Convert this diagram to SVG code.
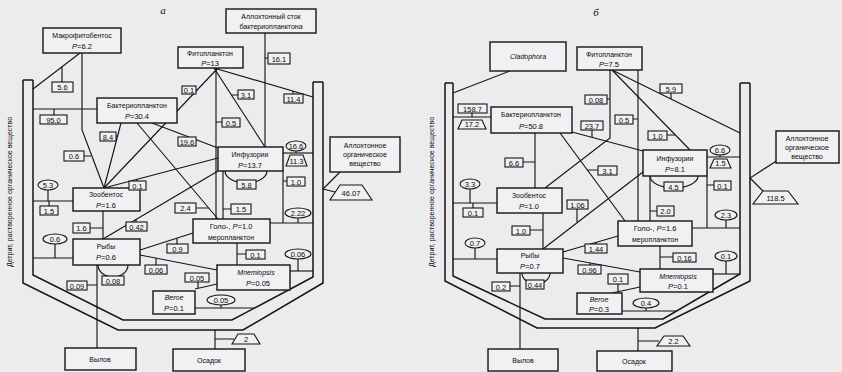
<svg xmlns="http://www.w3.org/2000/svg" width="842" height="372" viewBox="0 0 842 372">
<style>
.bg{fill:#ececef}
.ln{stroke:#151515;stroke-width:1.15;fill:none}
.wl{stroke:#151515;stroke-width:1.5;fill:none}
.bx{fill:#f1f1f3;stroke:#151515;stroke-width:1.4}
.lb{fill:#f1f1f3;stroke:#151515;stroke-width:1.1}
.t{font-family:"Liberation Sans",Arial,sans-serif;font-size:7px;fill:#0a0a0a;text-anchor:middle}
.n{font-family:"Liberation Sans",Arial,sans-serif;font-size:7.5px;fill:#0a0a0a;text-anchor:middle}
.i{font-style:italic}
.h{font-family:"Liberation Serif","Times New Roman",serif;font-size:11px;font-style:italic;fill:#111;text-anchor:middle}
</style>
<rect class="bg" x="0" y="0" width="842" height="372"/>

<!-- ===== LEFT (a) ===== -->
<g id="a-trough">
<path class="wl" d="M23,80 V283 L118,330 H243 L323,283 V82"/>
<path class="wl" d="M33,80 V275 L123,320 H232 L313,277 V82"/>
<path class="wl" d="M23,80 H33 M313,82 H323"/>
<text class="t" transform="translate(12,192) rotate(-90)">Детрит, растворенное органическое вещество</text>
</g>
<text class="h" x="163" y="14">а</text>

<g id="a-connectors">
<path class="ln" d="M80,53 L33,89"/>
<path class="ln" d="M82,53 V130 L104,188"/>
<path class="ln" d="M33,109 H97"/>
<path class="ln" d="M121,123 L104,188"/>
<path class="ln" d="M218,68 L104,188"/>
<path class="ln" d="M216,68 V219"/>
<path class="ln" d="M214,68 L265,147"/>
<path class="ln" d="M214,68 L313,97"/>
<path class="ln" d="M265,33 V147"/>
<path class="ln" d="M152,123 L218,148"/>
<path class="ln" d="M137,123 L218,219"/>
<path class="ln" d="M223,171 V219"/>
<path class="ln" d="M218,158 L104,188"/>
<path class="ln" d="M218,171 L103,239"/>
<path class="ln" d="M103,211 V239"/>
<path class="ln" d="M33,201 H73"/>
<path class="ln" d="M33,258 H73"/>
<path class="ln" d="M97,265 V348"/>
<path class="ln" d="M98,265 A15,12 0 0 0 128,265"/>
<path class="ln" d="M225,171 A21,12 0 0 0 267,171"/>
<path class="ln" d="M193,233 L140,250"/>
<path class="ln" d="M140,255 L217,270"/>
<path class="ln" d="M237,243 V265"/>
<path class="ln" d="M270,223 H313"/>
<path class="ln" d="M283,153 H313"/>
<path class="ln" d="M283,171 V223"/>
<path class="ln" d="M290,271 H313"/>
<path class="ln" d="M195,289 L217,284"/>
<path class="ln" d="M195,308 H255"/>
<path class="ln" d="M215,330 V349 M215,339 H234"/>
<path class="ln" d="M340,172 L323,189 L335,192"/>
<!-- ticks -->
<path class="ln" d="M62,82 V67 M54,109 V115 M116,136 H118 M84,156 H91 M196,90 H197 M238,95 H231 M222,122 H216 M293,94 V91 M265,58 H268 M296,151 V153 M283,181 H287 M48,190 V201 M49,201 V206 M137,181 V179 M196,208 H209 M223,209 H231 M136,222 V219 M90,228 H103 M55,244 V258 M177,244 V238 M298,218 V223 M237,254 H246 M156,265 V258 M298,259 V271 M198,282 V288 M221,305 V308 M87,285 H97"/>
</g>

<g id="a-makrofitobentos"><rect class="bx" x="43" y="28" width="78" height="25"/><text class="t" x="82" y="38">Макрофитобентос</text><text class="n" x="82" y="49"><tspan class="i">P</tspan>=6.2</text></g>
<g id="a-allochthonous-bacterio"><rect class="bx" x="226" y="9" width="90" height="24"/><text class="t" x="271" y="19">Аллохтонный сток</text><text class="t" x="271" y="29">бактериопланктона</text></g>
<g id="a-phytoplankton"><rect class="bx" x="178" y="47" width="65" height="21"/><text class="t" x="210" y="56">Фитопланктон</text><text class="n" x="210" y="66"><tspan class="i">P</tspan>=13</text></g>
<g id="a-bacterioplankton"><rect class="bx" x="97" y="98" width="80" height="25"/><text class="t" x="137" y="108">Бактериопланктон</text><text class="n" x="137" y="119"><tspan class="i">P</tspan>=30.4</text></g>
<g id="a-infusoria"><rect class="bx" x="218" y="147" width="65" height="24"/><text class="t" x="250" y="157">Инфузории</text><text class="n" x="250" y="168"><tspan class="i">P</tspan>=13.7</text></g>
<g id="a-zoobenthos"><rect class="bx" x="73" y="188" width="67" height="23"/><text class="t" x="106" y="197">Зообентос</text><text class="n" x="106" y="208"><tspan class="i">P</tspan>=1.6</text></g>
<g id="a-fish"><rect class="bx" x="73" y="239" width="67" height="26"/><text class="t" x="106" y="249">Рыбы</text><text class="n" x="106" y="260"><tspan class="i">P</tspan>=0.6</text></g>
<g id="a-golo"><rect class="bx" x="193" y="219" width="77" height="24"/><text class="n" x="231" y="229">Голо-, <tspan class="i">P</tspan>=1.0</text><text class="t" x="231" y="240">меропланктон</text></g>
<g id="a-mnemiopsis"><rect class="bx" x="217" y="265" width="73" height="25"/><text class="t i" x="256" y="275">Mnemiopsis</text><text class="n" x="258" y="286"><tspan class="i">P</tspan>=0.05</text></g>
<g id="a-beroe"><rect class="bx" x="153" y="291" width="42" height="23"/><text class="t i" x="174" y="300">Beroe</text><text class="n" x="174" y="311"><tspan class="i">P</tspan>=0.1</text></g>
<g id="a-vylov"><rect class="bx" x="65" y="348" width="71" height="22"/><text class="t" x="100" y="362">Вылов</text></g>
<g id="a-osadok"><rect class="bx" x="173" y="349" width="72" height="22"/><text class="t" x="209" y="363">Осадок</text></g>
<g id="a-allochthonous-om"><rect class="bx" x="330" y="137" width="70" height="35"/><text class="t" x="365" y="148">Аллохтонное</text><text class="t" x="365" y="157">органическое</text><text class="t" x="365" y="166">вещество</text></g>

<g id="a-labels">
<rect class="lb" x="52" y="82" width="21" height="10"/><text class="n" x="62.5" y="90">5.6</text>
<rect class="lb" x="40" y="115" width="27" height="9"/><text class="n" x="53.5" y="122.5">95.0</text>
<rect class="lb" x="100" y="132" width="16" height="9"/><text class="n" x="108" y="139.5">8.4</text>
<rect class="lb" x="64" y="151" width="20" height="10"/><text class="n" x="74" y="159">0.6</text>
<rect class="lb" x="182" y="86" width="14" height="8"/><text class="n" x="189" y="92.5">0.1</text>
<rect class="lb" x="238" y="90" width="16" height="9"/><text class="n" x="246" y="97.5">3.1</text>
<rect class="lb" x="222" y="118" width="18" height="9"/><text class="n" x="231" y="125.5">0.5</text>
<rect class="lb" x="284" y="94" width="19" height="9"/><text class="n" x="293.5" y="101.5">11.4</text>
<rect class="lb" x="268" y="53" width="22" height="11"/><text class="n" x="279" y="61.5">16.1</text>
<rect class="lb" x="178" y="137" width="18" height="9"/><text class="n" x="187" y="144.5">19.6</text>
<rect class="lb" x="237" y="180" width="19" height="9"/><text class="n" x="246.5" y="187.5">5.8</text>
<ellipse class="lb" cx="296" cy="146" rx="10" ry="5"/><text class="n" x="296" y="148.5">16.6</text>
<polygon class="lb" points="286,166 307,166 303,155 290,155"/><text class="n" x="296.5" y="163.5">11.3</text>
<rect class="lb" x="287" y="177" width="18" height="9"/><text class="n" x="296" y="184.5">1.0</text>
<ellipse class="lb" cx="48" cy="185" rx="10" ry="5"/><text class="n" x="48" y="187.5">5.3</text>
<rect class="lb" x="40" y="206" width="18" height="9"/><text class="n" x="49" y="213.5">1.5</text>
<rect class="lb" x="129" y="181" width="17" height="9"/><text class="n" x="137.5" y="188.5">0.1</text>
<rect class="lb" x="175" y="203" width="21" height="10"/><text class="n" x="185.5" y="211">2.4</text>
<rect class="lb" x="231" y="204" width="20" height="10"/><text class="n" x="241" y="212">1.5</text>
<rect class="lb" x="126" y="222" width="21" height="9"/><text class="n" x="136.5" y="229.5">0.42</text>
<rect class="lb" x="73" y="223" width="17" height="10"/><text class="n" x="81.5" y="231">1.6</text>
<ellipse class="lb" cx="55" cy="239" rx="12" ry="5"/><text class="n" x="55" y="241.5">0.6</text>
<rect class="lb" x="167" y="244" width="21" height="9"/><text class="n" x="177.5" y="251.5">0.9</text>
<ellipse class="lb" cx="298" cy="213" rx="13" ry="5"/><text class="n" x="298" y="215.5">2.22</text>
<rect class="lb" x="246" y="250" width="19" height="9"/><text class="n" x="255.5" y="257.5">0.1</text>
<rect class="lb" x="145" y="265" width="22" height="9"/><text class="n" x="156" y="272.5">0.06</text>
<ellipse class="lb" cx="298" cy="254" rx="13" ry="5"/><text class="n" x="298" y="256.5">0.06</text>
<rect class="lb" x="185" y="273" width="24" height="9"/><text class="n" x="197" y="280.5">0.05</text>
<ellipse class="lb" cx="221" cy="300" rx="14" ry="5"/><text class="n" x="221" y="302.5">0.05</text>
<rect class="lb" x="67" y="281" width="20" height="9"/><text class="n" x="77" y="288.5">0.09</text>
<rect class="lb" x="102" y="276" width="22" height="9"/><text class="n" x="113" y="283.5">0.08</text>
<polygon class="lb" points="232,344 260,344 254,334 238,334"/><text class="n" x="246" y="342">2</text>
<polygon class="lb" points="330,200 372,200 362,185 340,185"/><text class="n" x="351" y="196">46.07</text>
</g>

<!-- ===== RIGHT (б) ===== -->
<g id="b-trough">
<path class="wl" d="M445,83 V281 L537,328 H655 L750,281 V83"/>
<path class="wl" d="M453,83 V276 L545,319 H663 L740,274 V83"/>
<path class="wl" d="M445,83 H453 M740,83 H750"/>
<text class="t" transform="translate(434,192) rotate(-90)">Детрит, растворенное органическое вещество</text>
</g>
<text class="h" x="596" y="16">б</text>

<g id="b-connectors">
<path class="ln" d="M510,71 L453,93"/>
<path class="ln" d="M453,117 H491"/>
<path class="ln" d="M535,133 V188"/>
<path class="ln" d="M572,132 L643,151"/>
<path class="ln" d="M610,70 V138 L545,188"/>
<path class="ln" d="M638,70 V221"/>
<path class="ln" d="M612,70 L690,150"/>
<path class="ln" d="M612,70 L740,133"/>
<path class="ln" d="M560,133 L625,221"/>
<path class="ln" d="M650,176 V221"/>
<path class="ln" d="M707,157 H740"/>
<path class="ln" d="M707,176 V228"/>
<path class="ln" d="M692,228 H740"/>
<path class="ln" d="M643,172 L543,249"/>
<path class="ln" d="M543,213 V249"/>
<path class="ln" d="M453,203 H497"/>
<path class="ln" d="M453,259 H497"/>
<path class="ln" d="M520,273 V349"/>
<path class="ln" d="M522,273 A14,11 0 0 0 550,273"/>
<path class="ln" d="M650,176 A24,12 0 0 0 698,176"/>
<path class="ln" d="M618,236 L563,252"/>
<path class="ln" d="M563,258 L640,272"/>
<path class="ln" d="M660,246 V269"/>
<path class="ln" d="M713,274 H740"/>
<path class="ln" d="M612,293 L640,287"/>
<path class="ln" d="M622,311 H677"/>
<path class="ln" d="M638,328 V351 M638,341 H659"/>
<path class="ln" d="M778,160 L750,178 L763,191"/>
<!-- ticks -->
<path class="ln" d="M472,113 V117 M523,162 H535 M607,99 H610 M633,119 H638 M671,93 V99 M592,130 V137 M667,135 H675 M598,170 H587 M720,155 V157 M707,185 H714 M470,189 V203 M473,203 V208 M577,209 V222 M530,230 H543 M475,248 V259 M650,211 H657 M596,244 V242 M726,220 V228 M590,265 V263 M660,257 H673 M726,261 V274 M618,284 V292 M646,308 V311 M510,286 H520"/>
</g>

<g id="b-cladophora"><rect class="bx" x="490" y="42" width="76" height="29"/><text class="t i" x="528" y="59">Cladophora</text></g>
<g id="b-phytoplankton"><rect class="bx" x="577" y="47" width="65" height="23"/><text class="t" x="609" y="57">Фитопланктон</text><text class="n" x="609" y="67"><tspan class="i">P</tspan>=7.5</text></g>
<g id="b-bacterioplankton"><rect class="bx" x="491" y="107" width="81" height="26"/><text class="t" x="531" y="117">Бактериопланктон</text><text class="n" x="531" y="129"><tspan class="i">P</tspan>=50.8</text></g>
<g id="b-infusoria"><rect class="bx" x="643" y="150" width="64" height="26"/><text class="t" x="675" y="161">Инфузории</text><text class="n" x="675" y="172"><tspan class="i">P</tspan>=8.1</text></g>
<g id="b-zoobenthos"><rect class="bx" x="497" y="188" width="65" height="25"/><text class="t" x="529" y="198">Зообентос</text><text class="n" x="529" y="209"><tspan class="i">P</tspan>=1.0</text></g>
<g id="b-fish"><rect class="bx" x="497" y="249" width="66" height="24"/><text class="t" x="530" y="258">Рыбы</text><text class="n" x="530" y="269"><tspan class="i">P</tspan>=0.7</text></g>
<g id="b-golo"><rect class="bx" x="618" y="221" width="74" height="25"/><text class="n" x="655" y="231">Голо-, <tspan class="i">P</tspan>=1.6</text><text class="t" x="655" y="242">меропланктон</text></g>
<g id="b-mnemiopsis"><rect class="bx" x="640" y="269" width="73" height="23"/><text class="t i" x="678" y="279">Mnemiopsis</text><text class="n" x="678" y="289"><tspan class="i">P</tspan>=0.1</text></g>
<g id="b-beroe"><rect class="bx" x="577" y="293" width="45" height="21"/><text class="t i" x="599" y="302">Beroe</text><text class="n" x="599" y="312"><tspan class="i">P</tspan>=0.3</text></g>
<g id="b-vylov"><rect class="bx" x="488" y="349" width="70" height="22"/><text class="t" x="523" y="363">Вылов</text></g>
<g id="b-osadok"><rect class="bx" x="597" y="351" width="75" height="20"/><text class="t" x="634" y="364">Осадок</text></g>
<g id="b-allochthonous-om"><rect class="bx" x="776" y="131" width="63" height="32"/><text class="t" x="807" y="141">Аллохтонное</text><text class="t" x="807" y="150">органическое</text><text class="t" x="807" y="159">вещество</text></g>

<g id="b-labels">
<rect class="lb" x="458" y="104" width="29" height="9"/><text class="n" x="472.5" y="111.5">158.7</text>
<polygon class="lb" points="458,129 486,129 482,120 462,120"/><text class="n" x="472" y="127">17.2</text>
<rect class="lb" x="505" y="158" width="18" height="9"/><text class="n" x="514" y="165.5">6.6</text>
<rect class="lb" x="585" y="95" width="22" height="9"/><text class="n" x="596" y="102.5">0.08</text>
<rect class="lb" x="615" y="115" width="18" height="9"/><text class="n" x="624" y="122.5">0.5</text>
<rect class="lb" x="660" y="84" width="22" height="9"/><text class="n" x="671" y="91.5">5.9</text>
<rect class="lb" x="581" y="121" width="22" height="9"/><text class="n" x="592" y="128.5">23.7</text>
<rect class="lb" x="648" y="131" width="19" height="9"/><text class="n" x="657.5" y="138.5">1.0</text>
<rect class="lb" x="598" y="166" width="19" height="9"/><text class="n" x="607.5" y="173.5">3.1</text>
<ellipse class="lb" cx="720" cy="150" rx="10" ry="5"/><text class="n" x="720" y="152.5">6.6</text>
<polygon class="lb" points="710,168 731,168 727,159 714,159"/><text class="n" x="720.5" y="166">1.5</text>
<rect class="lb" x="714" y="181" width="17" height="9"/><text class="n" x="722.5" y="188.5">0.1</text>
<rect class="lb" x="664" y="182" width="19" height="9"/><text class="n" x="673.5" y="189.5">4.5</text>
<ellipse class="lb" cx="470" cy="184" rx="10" ry="5"/><text class="n" x="470" y="186.5">3.3</text>
<rect class="lb" x="463" y="208" width="20" height="9"/><text class="n" x="473" y="215.5">0.1</text>
<rect class="lb" x="567" y="200" width="21" height="9"/><text class="n" x="577.5" y="207.5">1.06</text>
<rect class="lb" x="512" y="226" width="18" height="9"/><text class="n" x="521" y="233.5">1.0</text>
<ellipse class="lb" cx="475" cy="243" rx="10" ry="5"/><text class="n" x="475" y="245.5">0.7</text>
<rect class="lb" x="657" y="206" width="17" height="10"/><text class="n" x="665.5" y="214">2.0</text>
<rect class="lb" x="585" y="244" width="22" height="9"/><text class="n" x="596" y="251.5">1.44</text>
<ellipse class="lb" cx="726" cy="215" rx="11" ry="5"/><text class="n" x="726" y="217.5">2.3</text>
<rect class="lb" x="578" y="265" width="23" height="9"/><text class="n" x="589.5" y="272.5">0.96</text>
<rect class="lb" x="673" y="253" width="23" height="9"/><text class="n" x="684.5" y="260.5">0.16</text>
<ellipse class="lb" cx="726" cy="256" rx="11" ry="5"/><text class="n" x="726" y="258.5">0.1</text>
<rect class="lb" x="608" y="274" width="20" height="10"/><text class="n" x="618" y="282">0.1</text>
<ellipse class="lb" cx="646" cy="303" rx="13" ry="5"/><text class="n" x="646" y="305.5">0.4</text>
<rect class="lb" x="492" y="282" width="18" height="9"/><text class="n" x="501" y="289.5">0.2</text>
<rect class="lb" x="526" y="280" width="18" height="9"/><text class="n" x="535" y="287.5">0.44</text>
<polygon class="lb" points="657,346 690,346 683,336 664,336"/><text class="n" x="673.5" y="344">2.2</text>
<polygon class="lb" points="753,204 798,204 788,191 763,191"/><text class="n" x="775.5" y="201">118.5</text>
</g>
</svg>
